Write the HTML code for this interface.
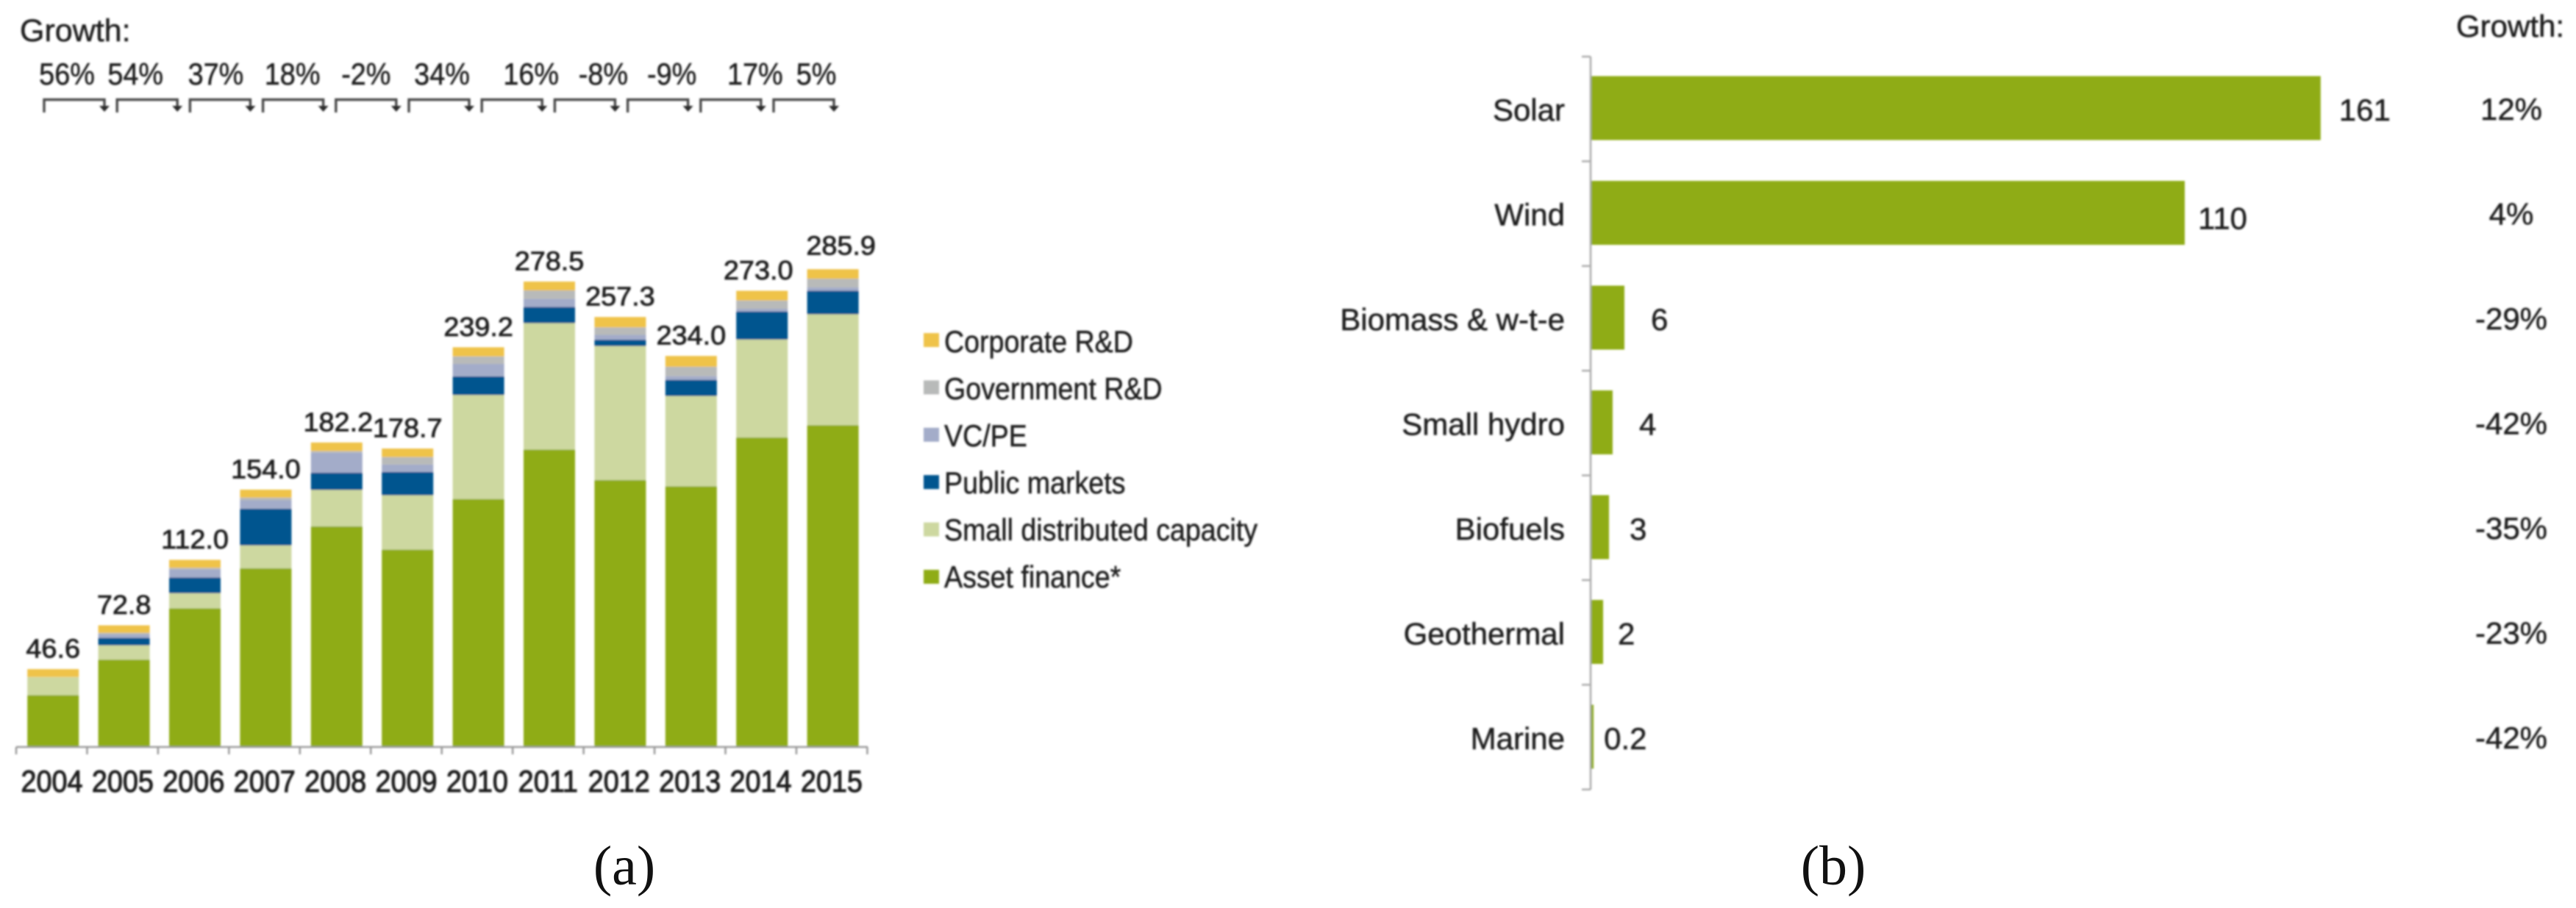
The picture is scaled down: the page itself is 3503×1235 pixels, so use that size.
<!DOCTYPE html>
<html lang="en">
<head>
<meta charset="utf-8">
<title>Renewable energy investment charts</title>
<style>
html,body{margin:0;padding:0;background:#fff;width:3503px;height:1235px;overflow:hidden}
#figure{display:block}
text{font-family:"Liberation Sans",Arial,sans-serif;fill:#1c1c1c;stroke:#1c1c1c;stroke-width:0.5px}
.caption{font-family:"Liberation Serif","DejaVu Serif",serif;font-size:76px;fill:#111;stroke:none}
</style>
</head>
<body>
<svg id="figure" xmlns="http://www.w3.org/2000/svg" width="3503" height="1235" viewBox="0 0 3503 1235">
  <defs>
    <filter id="soft" filterUnits="userSpaceOnUse" x="0" y="0" width="3503" height="1235">
      <feGaussianBlur stdDeviation="1.2"/>
    </filter>
  </defs>
  <rect x="0" y="0" width="3503" height="1235" fill="#ffffff"/>
  <g id="panel-a" filter="url(#soft)"></g>
  <g id="panel-b" filter="url(#soft)"></g>
  <text class="caption" x="849" y="1203" text-anchor="middle">(a)</text>
  <text class="caption" x="2493" y="1203" text-anchor="middle">(b)</text>
</svg>
<script>
const years = ['2004','2005','2006','2007','2008','2009','2010','2011','2012','2013','2014','2015'];
const totals = ['46.6','72.8','112.0','154.0','182.2','178.7','239.2','278.5','257.3','234.0','273.0','285.9'];
const growthA = ['56%','54%','37%','18%','-2%','34%','16%','-8%','-9%','17%','5%'];
const assetFinance = [31,52.3,83,106.9,132,118.1,148.4,178,159.7,156,185.2,192.6];
const smallDistributed = [10.9,8.5,9,13.7,21.8,32.5,62.2,75.6,80.2,54,58.6,66.3];
const publicMarkets = [0,4.5,9.4,22,10.3,14,11.2,9.7,3.8,9.7,16.8,14.1];
const vcPe = [0,2,4.8,5,12,4.4,7.4,4.9,2.9,2.2,1.6,2];
const governmentRD = [0,1,1,1.6,1,4.5,4.5,5,4.5,5.6,5,5.2];
const corporateRD = [4.7,4.5,4.8,4.8,5.1,5.1,5.5,5.3,6.2,6.5,5.8,5.7];
const seriesNames = ['Asset finance*','Small distributed capacity','Public markets','VC/PE','Government R&D','Corporate R&D'];
const seriesColors = ['#8fac14','#cdd8a0','#00558f','#a3acc9','#b8bab9','#efc34a'];
const seriesValues = [assetFinance,smallDistributed,publicMarkets,vcPe,governmentRD,corporateRD];

const sectors = ['Solar','Wind','Biomass & w-t-e','Small hydro','Biofuels','Geothermal','Marine'];
const sectorBarValues = [161,131,7.3,4.7,3.9,2.6,0.5];
const sectorPrinted = ['161','110','6','4','3','2','0.2'];
const sectorGrowth = ['12%','4%','-29%','-42%','-35%','-23%','-42%'];

const NS = 'http://www.w3.org/2000/svg';
const panelA = document.getElementById('panel-a');
const panelB = document.getElementById('panel-b');

function node(parent, tag, attrs) {
  const el = document.createElementNS(NS, tag);
  for (const k in attrs) el.setAttribute(k, attrs[k]);
  parent.appendChild(el);
  return el;
}
function label(parent, x, y, str, size, sx, anchor, weight) {
  const el = node(parent, 'text', {
    transform: 'translate(' + x + ',' + y + ') scale(' + sx + ',1)',
    'font-size': size,
    'text-anchor': anchor
  });
  if (weight) {
    el.style.strokeWidth = weight + 'px';
  }
  el.textContent = str;
  return el;
}

/* axis functions, panel a */
const baseA = 1016;
const yA = v => baseA - 2.273 * v;
const xA = i => 72.2 + 96.4 * i;
const barWidthA = 70;

/* panel a: header */
const growthTitleA = label(panelA, 27, 56, 'Growth:', 43, 1, 'start');



const growthNudge = [0,-6,4,9,10,14,36,35,29,43,27];
growthA.forEach((g, i) => {
  const x0 = 60 + 99.2 * i;
  const t = label(panelA, x0 + 31 + growthNudge[i], 115, g, 42, 0.9, 'middle');
  
  
  const arrow = node(panelA, 'g', {});
  
  
  node(arrow, 'path', {
    d: 'M' + x0 + ' 153V135.5H' + (x0 + 82) + 'V144',
    fill: 'none', stroke: '#4a4a4a', 'stroke-width': 3.4
  });
  node(arrow, 'path', {
    d: 'M' + (x0 + 75) + ' 144H' + (x0 + 89) + 'L' + (x0 + 82) + ' 152Z',
    fill: '#2a2a2a'
  });
});

/* panel a: stacked bars */
years.forEach((yr, i) => {
  let cum = 0;
  seriesValues.forEach((vals, s) => {
    const v = vals[i];
    const r = node(panelA, 'rect', {
      x: xA(i) - barWidthA / 2,
      y: yA(cum + v),
      width: barWidthA,
      height: yA(cum) - yA(cum + v),
      fill: seriesColors[s]
    });
    
    
    cum += v;
  });
});

/* panel a: total labels */
const totalNudge = {2014: [-5, 0], 2015: [11, -4], 2008: [2, 0]};
totals.forEach((t, i) => {
  const n = totalNudge[years[i]] || [0, 0];
  const el = label(panelA, xA(i) + n[0], yA(parseFloat(t)) - 15.5 + n[1], t, 36, 1.05, 'middle', 0.8);
  
  
});

/* panel a: axis */
const axisA = node(panelA, 'line', {x1: 22, x2: 1180, y1: baseA, y2: baseA, stroke: '#999', 'stroke-width': 2.5});


for (let i = 0; i <= years.length; i++) {
  const tick = node(panelA, 'line', {
    x1: 22 + 96.45 * i, x2: 22 + 96.45 * i, y1: baseA, y2: baseA + 10,
    stroke: '#999', 'stroke-width': 2.5
  });
  
  
}
years.forEach((yr, i) => {
  const el = label(panelA, 70.5 + 96.4 * i, 1077, yr, 42, 0.9, 'middle', 1.1);
  
  
});

/* panel a: legend, top entry is the last series */
seriesNames.slice().reverse().forEach((name, i) => {
  const colour = seriesColors[seriesColors.length - 1 - i];
  const entry = node(panelA, 'g', {});
  
  
  const swatch = node(entry, 'rect', {x: 1256, y: 453 + 64.4 * i, width: 21, height: 19, fill: colour});
  
  
  const text = label(entry, 1284, 479 + 64 * i, name, 42, 0.895, 'start');
  
  
});

/* axis functions, panel b */
const originB = 2164;
const xB = v => originB + 6.16 * v;
const yB = i => 147 + 142.5 * i;
const barHeightB = 87;
const printedGap = [25, 18, 36, 36, 28, 20, 14];
const printedDrop = [0, 5, 0, 0, 0, 0, 0];

const axisB = node(panelB, 'line', {x1: 2163, x2: 2163, y1: 77, y2: 1074, stroke: '#aaa', 'stroke-width': 2.5});


for (let i = 0; i <= sectors.length; i++) {
  const tick = node(panelB, 'line', {
    x1: 2151, x2: 2163, y1: 77 + 142.4 * i, y2: 77 + 142.4 * i,
    stroke: '#aaa', 'stroke-width': 2.5
  });
  
  
}

const growthTitleB = label(panelB, 3340, 50, 'Growth:', 42, 1, 'start');



sectors.forEach((name, i) => {
  const bar = node(panelB, 'rect', {
    x: originB,
    y: yB(i) - barHeightB / 2,
    width: xB(sectorBarValues[i]) - originB,
    height: barHeightB,
    fill: '#8fac14'
  });
  
  

  const cat = label(panelB, 2128, yB(i) + 17, name, 42, 1, 'end');
  
  

  const val = label(panelB, xB(sectorBarValues[i]) + printedGap[i], yB(i) + 17 + printedDrop[i], sectorPrinted[i], 42, 1, 'start');
  
  

  const gr = label(panelB, 3415, yB(i) + 16, sectorGrowth[i], 42, 1, 'middle');
  
  
});
</script>
</body>
</html>
